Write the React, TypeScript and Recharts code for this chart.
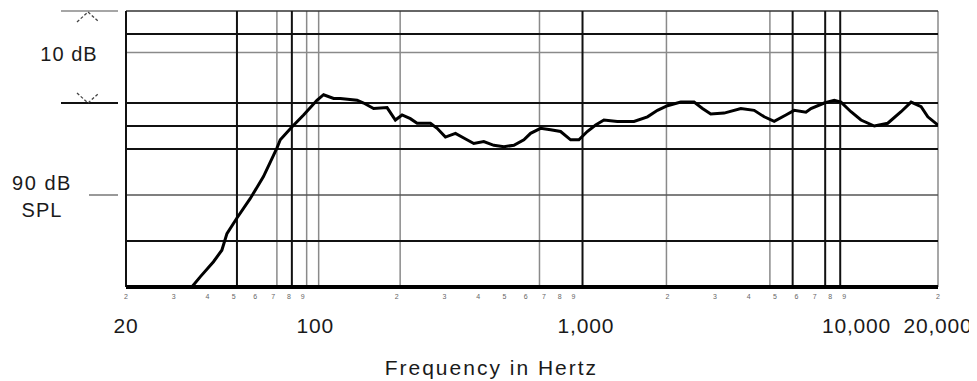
import React from "react";
import { LineChart, Line, XAxis, YAxis, ReferenceLine } from "recharts";

// Measured on-axis response: frequency (Hz) and sound pressure level (dB SPL)
const freqHz = [
  35, 37.6, 42.1, 45.2, 47.2, 51.4, 57.5, 64.4, 72.2, 74.3,
  82, 90.6, 101.5, 107.4, 117, 123.8, 142.8, 151, 164.4, 184.3,
  197.8, 209.4, 224.7, 238, 266.6, 282.2, 302.8, 329.8, 354, 385.4,
  419.7, 457.1, 497.8, 542.1, 590.3, 624.8, 680.3, 740.8, 806.6, 878.4,
  942.6, 1012, 1087, 1166, 1307, 1506, 1689, 1839, 2002, 2242,
  2511, 2697, 2894, 3242, 3738, 4186, 4559, 4964, 5483, 5885,
  6501, 6786, 7598, 8275, 8760, 9538, 10388, 11632, 13041, 14606,
  15908, 17322, 18340, 20000,
];
const splDb = [
  80.0, 81.1, 82.75, 84.0, 85.8, 87.5, 89.6, 92.0, 95.1, 96.0,
  97.4, 98.7, 100.3, 100.9, 100.5, 100.5, 100.3, 100.0, 99.4, 99.5,
  98.15, 98.7, 98.3, 97.8, 97.8, 97.25, 96.3, 96.7, 96.2, 95.6,
  95.8, 95.4, 95.25, 95.4, 96.0, 96.7, 97.25, 97.1, 96.9, 96.0,
  96.0, 96.9, 97.6, 98.15, 98.0, 98.0, 98.5, 99.2, 99.7, 100.1,
  100.1, 99.4, 98.8, 98.9, 99.4, 99.2, 98.5, 98.0, 98.7, 99.2,
  99.0, 99.4, 100.0, 100.3, 100.1, 99.05, 98.15, 97.5, 97.8, 99.05,
  100.1, 99.6, 98.5, 97.6,
];

// Frequency axis ticks (decade digits 2..9 plus the labelled frequencies)
const freqTicks = [
  20, 30, 40, 50, 60, 70, 80, 90, 100,
  200, 300, 400, 500, 600, 700, 800, 900, 1000,
  2000, 3000, 4000, 5000, 6000, 7000, 8000, 9000, 10000, 20000,
];
const majorFreqLabels: Record<number, string> = {
  20: "20",
  100: "100",
  1000: "1,000",
  10000: "10,000",
  20000: "20,000",
};

// Level axis ticks: 90 dB SPL reference and the 10 dB scale bracket
const levelTicks = [90, 100, 110];

// Graph paper rulings
const heavyFreqLines = [20, 51.4, 82, 972, 5808, 7660, 8705];
const lightFreqLines = [72.2, 93, 103, 206, 674, 1985, 4786, 20000];
const heavyLevelLines = [85, 95, 97.5, 100, 107.5];
const lightLevelLines = [90, 105.5];
const topLevel = 110;
const bottomLevel = 80;

const data = freqHz.map((f, i) => ({ f, db: splDb[i] }));

const FONT = '"Liberation Sans", Arial, Helvetica, sans-serif';
const INK = "#1a1a1a";

const FreqTick = (props: any) => {
  const { x, y, payload } = props;
  const v: number = payload.value;
  const lead = String(v)[0];
  const major = majorFreqLabels[v];
  return (
    <g>
      {lead !== "1" && (
        <text x={x} y={y + 12} textAnchor="middle" fontSize={7} fill="#666" fontFamily={FONT}>
          {lead}
        </text>
      )}
      {major && (
        <text
          x={x}
          y={y + 46}
          textAnchor="middle"
          fontSize={21}
          letterSpacing={0.8}
          fill={INK}
          fontFamily={FONT}
        >
          {major}
        </text>
      )}
    </g>
  );
};

const LevelTick = (props: any) => {
  const { x, y, payload } = props;
  const v: number = payload.value;
  if (v === 110) {
    return (
      <g>
        <line x1={x - 65} x2={x - 8} y1={y} y2={y} stroke="#888" strokeWidth={1.5} />
        <polyline
          points={`${x - 49},${y + 11} ${x - 38},${y + 1} ${x - 27},${y + 11}`}
          fill="none"
          stroke="#444"
          strokeWidth={1.3}
          strokeDasharray="3 2"
        />
      </g>
    );
  }
  if (v === 100) {
    return (
      <g>
        <line x1={x - 65} x2={x - 8} y1={y} y2={y} stroke="#111" strokeWidth={2} />
        <polyline
          points={`${x - 49},${y - 10} ${x - 38},${y} ${x - 27},${y - 10}`}
          fill="none"
          stroke="#444"
          strokeWidth={1.3}
          strokeDasharray="3 2"
        />
        <text
          x={x - 57}
          y={y - 42}
          textAnchor="middle"
          fontSize={20}
          letterSpacing={1}
          fill={INK}
          fontFamily={FONT}
        >
          10 dB
        </text>
      </g>
    );
  }
  return (
    <g>
      <line x1={x - 37} x2={x - 8} y1={y} y2={y} stroke="#777" strokeWidth={1.5} />
      <text x={x - 84} y={y - 5} textAnchor="middle" fontSize={20} letterSpacing={1.5} fill={INK} fontFamily={FONT}>
        90 dB
      </text>
      <text x={x - 84} y={y + 22} textAnchor="middle" fontSize={20} letterSpacing={1} fill={INK} fontFamily={FONT}>
        SPL
      </text>
    </g>
  );
};

const AxisTitle = (props: any) => {
  const vb = props.viewBox ?? { x: 118, y: 279, width: 812, height: 94 };
  return (
    <text
      x={vb.x + vb.width * 0.45}
      y={vb.y + 88}
      textAnchor="middle"
      fontSize={21}
      letterSpacing={2}
      fill={INK}
      fontFamily={FONT}
    >
      Frequency in Hertz
    </text>
  );
};

export default function App() {
  return (
    <div style={{ width: 969, height: 373, background: "#fff" }}>
      <LineChart
        width={969}
        height={373}
        data={data}
        margin={{ top: 3, right: 39, bottom: 0, left: 0 }}
      >
        <XAxis
          dataKey="f"
          type="number"
          scale="log"
          domain={[20, 20000]}
          allowDataOverflow
          ticks={freqTicks}
          interval={0}
          height={94}
          axisLine={false}
          tickLine={false}
          tickSize={0}
          tickMargin={0}
          tick={<FreqTick />}
          label={{ content: (p: any) => <AxisTitle {...p} /> }}
        />
        <YAxis
          type="number"
          domain={[80, 110]}
          allowDataOverflow
          ticks={levelTicks}
          interval={0}
          width={118}
          axisLine={false}
          tickLine={false}
          tickSize={0}
          tickMargin={0}
          tick={<LevelTick />}
        />

        {lightFreqLines.map((f) => (
          <ReferenceLine key={`lf${f}`} x={f} stroke="#8a8a8a" strokeWidth={1.5} />
        ))}
        {lightLevelLines.map((d) => (
          <ReferenceLine key={`ll${d}`} y={d} stroke={d === 90 ? "#555" : "#8a8a8a"} strokeWidth={1.5} />
        ))}
        <ReferenceLine y={topLevel} stroke="#333" strokeWidth={1.5} />
        {heavyLevelLines.map((d) => (
          <ReferenceLine key={`hl${d}`} y={d} stroke="#111" strokeWidth={2} />
        ))}
        {heavyFreqLines.map((f) => (
          <ReferenceLine key={`hf${f}`} x={f} stroke="#111" strokeWidth={2} />
        ))}
        <ReferenceLine y={bottomLevel} stroke="#000" strokeWidth={4} />

        <Line
          dataKey="db"
          type="linear"
          stroke="#000"
          strokeWidth={3}
          dot={false}
          isAnimationActive={false}
        />
      </LineChart>
    </div>
  );
}
